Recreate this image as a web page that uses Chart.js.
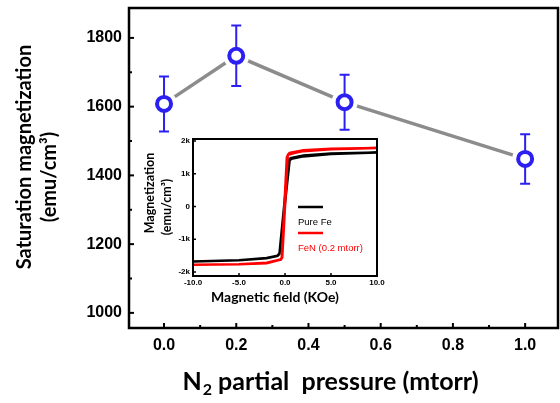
<!DOCTYPE html>
<html>
<head>
<meta charset="utf-8">
<script src="https://cdn.jsdelivr.net/npm/chart.js@4/dist/chart.umd.min.js"></script>
<style>
  html, body { margin: 0; padding: 0; background: #fff; }
  #wrap { position: relative; width: 560px; height: 403px; overflow: hidden; }
  #mainChart { position: absolute; left: 0; top: 0; }
  #insetChart { position: absolute; left: 138px; top: 130px; }
</style>
</head>
<body>
<div id="wrap">
  <canvas id="mainChart" width="560" height="403"></canvas>
  <canvas id="insetChart" width="247" height="178"></canvas>
</div>
<script>
// main plot: saturation magnetization vs N2 partial pressure
const pressure = [0.0, 0.2, 0.5, 1.0];
const magnetization = [1608, 1748, 1613, 1448];
const magError = [80, 88, 80, 72];
const xTickValues = [0.0, 0.2, 0.4, 0.6, 0.8, 1.0];
const yTickValues = [1000, 1200, 1400, 1600, 1800];

// inset: hysteresis loops (field in kOe, moment in emu/cm3)
const feField  = [-10, -5, -2, -0.8, -0.6, 0.5, 0.7, 2, 5, 10, 5, 2, 0.6, 0.4, -0.6, -0.8, -2, -5, -10];
const feMoment = [-1680, -1640, -1580, -1510, -1450, 1400, 1460, 1530, 1600, 1650, 1620, 1560, 1480, 1420, -1430, -1500, -1570, -1640, -1680];
const fenField  = [-10, -5, -2, -0.5, -0.35, 0.2, 0.35, 1, 2, 5, 10, 5, 2, 0.5, 0.3, -0.3, -0.45, -2, -5, -10];
const fenMoment = [-1780, -1760, -1730, -1620, -1560, 1500, 1580, 1630, 1690, 1750, 1790, 1760, 1720, 1640, 1570, -1550, -1620, -1720, -1760, -1780];
const insetXTicks = [-10, -5, 0, 5, 10];
const insetYTicks = [-2000, -1000, 0, 1000, 2000];
const insetYLabels = ['-2k', '-1k', '0', '1k', '2k'];

const markerBlue = '#2b1ff2';
const lineGray = '#8c8c8c';
const tickFont = 'Liberation Sans';
const titleFont = 'Lato';

function toPoints(xs, ys) {
  return xs.map((x, i) => ({ x: x, y: ys[i] }));
}

function drawInwardTicks(ctx, scale, values, len, horizontal, area) {
  values.forEach(v => {
    const p = scale.getPixelForValue(v);
    ctx.beginPath();
    if (horizontal) {
      ctx.moveTo(p, area.bottom);
      ctx.lineTo(p, area.bottom - len);
    } else {
      ctx.moveTo(area.left, p);
      ctx.lineTo(area.left + len, p);
    }
    ctx.stroke();
  });
}

// keep tick labels from pushing the plot area around
function noPadding(s) {
  s.paddingLeft = 0; s.paddingRight = 0;
  s.paddingTop = 0; s.paddingBottom = 0;
}

const mainDecor = {
  id: 'mainDecor',
  afterDatasetDraw(chart, args) {
    // error bars go above the white halo but below the open circles
    if (args.index !== 1) return;
    const ctx = chart.ctx, xs = chart.scales.x, ys = chart.scales.y;
    ctx.save();
    ctx.strokeStyle = markerBlue;
    ctx.lineWidth = 2;
    pressure.forEach((p, i) => {
      const x = xs.getPixelForValue(p);
      const top = ys.getPixelForValue(magnetization[i] + magError[i]);
      const bot = ys.getPixelForValue(magnetization[i] - magError[i]);
      ctx.beginPath();
      ctx.moveTo(x, top); ctx.lineTo(x, bot);
      ctx.moveTo(x - 5, top); ctx.lineTo(x + 5, top);
      ctx.moveTo(x - 5, bot); ctx.lineTo(x + 5, bot);
      ctx.stroke();
    });
    ctx.restore();
  },
  afterDraw(chart) {
    const ctx = chart.ctx, a = chart.chartArea;
    const xs = chart.scales.x, ys = chart.scales.y;
    ctx.save();
    ctx.strokeStyle = '#000';
    ctx.lineWidth = 2.5;
    ctx.strokeRect(a.left, a.top, a.right - a.left, a.bottom - a.top);

    ctx.lineWidth = 2;
    drawInwardTicks(ctx, xs, xTickValues, 5, true, a);
    drawInwardTicks(ctx, xs, [0.1, 0.3, 0.5, 0.7, 0.9], 3, true, a);
    drawInwardTicks(ctx, ys, yTickValues, 5, false, a);
    drawInwardTicks(ctx, ys, [1100, 1300, 1500, 1700], 3, false, a);

    // y title, two rotated lines
    ctx.fillStyle = '#000';
    ctx.textAlign = 'center';
    ctx.textBaseline = 'middle';
    ctx.font = 'bold 20px "' + titleFont + '"';
    ctx.save();
    ctx.translate(25, 157);
    ctx.rotate(-Math.PI / 2);
    ctx.fillText('Saturation magnetization', 0, 0);
    ctx.restore();
    ctx.save();
    ctx.translate(50, 177);
    ctx.rotate(-Math.PI / 2);
    ctx.fillText('(emu/cm\u00B3)', 0, 0);
    ctx.restore();

    // x title with subscript
    const big = 'bold 25px "' + titleFont + '"';
    const small = 'bold 16px "' + titleFont + '"';
    const rest = ' partial  pressure (mtorr)';
    ctx.font = big;
    const wN = ctx.measureText('N').width;
    const wRest = ctx.measureText(rest).width;
    ctx.font = small;
    const w2 = ctx.measureText('2').width;
    const total = wN + w2 + wRest;
    const x0 = 330 - total / 2;
    const yBase = 390;
    ctx.textAlign = 'left';
    ctx.textBaseline = 'alphabetic';
    ctx.font = big;
    ctx.fillText('N', x0, yBase);
    ctx.font = small;
    ctx.fillText('2', x0 + wN + 1, yBase + 5);
    ctx.font = big;
    ctx.fillText(rest, x0 + wN + w2 + 1, yBase);
    ctx.restore();
  }
};

new Chart(document.getElementById('mainChart'), {
  type: 'scatter',
  data: {
    datasets: [
      {
        data: toPoints(pressure, magnetization),
        showLine: true,
        borderColor: lineGray,
        borderWidth: 3.5,
        pointRadius: 0,
        order: 3
      },
      {
        data: toPoints(pressure, magnetization),
        showLine: false,
        pointRadius: 13,
        pointBorderWidth: 0,
        pointBackgroundColor: '#fff',
        pointBorderColor: '#fff',
        order: 2
      },
      {
        data: toPoints(pressure, magnetization),
        showLine: false,
        pointRadius: 7,
        pointBorderWidth: 4,
        pointBackgroundColor: '#fff',
        pointBorderColor: markerBlue,
        order: 1
      }
    ]
  },
  options: {
    responsive: false,
    animation: false,
    devicePixelRatio: 1,
    layout: { autoPadding: false, padding: { top: 8, right: 2, left: 0, bottom: 0 } },
    plugins: { legend: { display: false }, tooltip: { enabled: false } },
    scales: {
      x: {
        type: 'linear',
        min: -0.097,
        max: 1.091,
        grid: { display: false, drawTicks: false },
        border: { display: false },
        afterBuildTicks: s => { s.ticks = xTickValues.map(v => ({ value: v })); },
        afterFit: s => { s.height = 75; noPadding(s); },
        ticks: {
          color: '#000',
          padding: 8,
          maxRotation: 0,
          font: { family: tickFont, size: 16, weight: 'bold' },
          callback: v => v.toFixed(1)
        }
      },
      y: {
        type: 'linear',
        min: 956,
        max: 1887,
        grid: { display: false, drawTicks: false },
        border: { display: false },
        afterBuildTicks: s => { s.ticks = yTickValues.map(v => ({ value: v })); },
        afterFit: s => { s.width = 129; noPadding(s); },
        ticks: {
          color: '#000',
          padding: 7,
          font: { family: tickFont, size: 16, weight: 'bold' },
          callback: v => String(v)
        }
      }
    }
  },
  plugins: [mainDecor]
});

const insetDecor = {
  id: 'insetDecor',
  beforeDatasetsDraw(chart) {
    const ctx = chart.ctx, a = chart.chartArea;
    ctx.save();
    ctx.fillStyle = '#fff';
    ctx.fillRect(a.left, a.top, a.right - a.left, a.bottom - a.top);
    ctx.restore();
  },
  afterDraw(chart) {
    const ctx = chart.ctx, a = chart.chartArea;
    const xs = chart.scales.x, ys = chart.scales.y;
    ctx.save();
    ctx.strokeStyle = '#000';
    ctx.lineWidth = 2;
    ctx.strokeRect(a.left, a.top, a.right - a.left, a.bottom - a.top);
    ctx.lineWidth = 1.5;
    drawInwardTicks(ctx, xs, insetXTicks, 3, true, a);
    drawInwardTicks(ctx, ys, insetYTicks, 3, false, a);

    // legend: line sample above each label
    const lx = 160, lw = 25;
    ctx.lineWidth = 2.5;
    ctx.strokeStyle = '#000';
    ctx.beginPath(); ctx.moveTo(lx, 77); ctx.lineTo(lx + lw, 77); ctx.stroke();
    ctx.strokeStyle = '#ff0000';
    ctx.beginPath(); ctx.moveTo(lx, 103); ctx.lineTo(lx + lw, 103); ctx.stroke();
    ctx.textAlign = 'left';
    ctx.textBaseline = 'middle';
    ctx.font = '9.5px "' + tickFont + '"';
    ctx.fillStyle = '#000';
    ctx.fillText('Pure Fe', lx, 92);
    ctx.fillStyle = '#ff0000';
    ctx.fillText('FeN (0.2 mtorr)', lx, 118);

    // axis titles
    ctx.fillStyle = '#000';
    ctx.textAlign = 'center';
    ctx.textBaseline = 'alphabetic';
    ctx.font = 'bold 14px "' + titleFont + '"';
    ctx.fillText('Magnetic field (KOe)', 137, 172);
    ctx.textBaseline = 'middle';
    ctx.font = 'bold 12.5px "' + titleFont + '"';
    ctx.save();
    ctx.translate(12, 63);
    ctx.rotate(-Math.PI / 2);
    ctx.fillText('Magnetization', 0, 0);
    ctx.restore();
    ctx.save();
    ctx.translate(29, 77);
    ctx.rotate(-Math.PI / 2);
    ctx.fillText('(emu/cm\u00B3)', 0, 0);
    ctx.restore();
    ctx.restore();
  }
};

new Chart(document.getElementById('insetChart'), {
  type: 'scatter',
  data: {
    datasets: [
      {
        label: 'FeN (0.2 mtorr)',
        data: toPoints(fenField, fenMoment),
        showLine: true,
        borderColor: '#ff0000',
        borderWidth: 2.5,
        pointRadius: 0,
        order: 1
      },
      {
        label: 'Pure Fe',
        data: toPoints(feField, feMoment),
        showLine: true,
        borderColor: '#000',
        borderWidth: 2.5,
        pointRadius: 0,
        order: 2
      }
    ]
  },
  options: {
    responsive: false,
    animation: false,
    devicePixelRatio: 1,
    layout: { autoPadding: false, padding: { top: 9, right: 8, left: 0, bottom: 0 } },
    plugins: { legend: { display: false }, tooltip: { enabled: false } },
    scales: {
      x: {
        type: 'linear',
        min: -10,
        max: 10,
        grid: { display: false, drawTicks: false },
        border: { display: false },
        afterBuildTicks: s => { s.ticks = insetXTicks.map(v => ({ value: v })); },
        afterFit: s => { s.height = 32; noPadding(s); },
        ticks: {
          color: '#000',
          padding: 2,
          maxRotation: 0,
          font: { family: tickFont, size: 8, weight: 'bold' },
          callback: v => v.toFixed(1)
        }
      },
      y: {
        type: 'linear',
        min: -2122,
        max: 2061,
        grid: { display: false, drawTicks: false },
        border: { display: false },
        afterBuildTicks: s => { s.ticks = insetYTicks.map(v => ({ value: v })); },
        afterFit: s => { s.width = 55; noPadding(s); },
        ticks: {
          color: '#000',
          padding: 3,
          font: { family: tickFont, size: 8, weight: 'bold' },
          callback: v => insetYLabels[insetYTicks.indexOf(v)]
        }
      }
    }
  },
  plugins: [insetDecor]
});
</script>
</body>
</html>
